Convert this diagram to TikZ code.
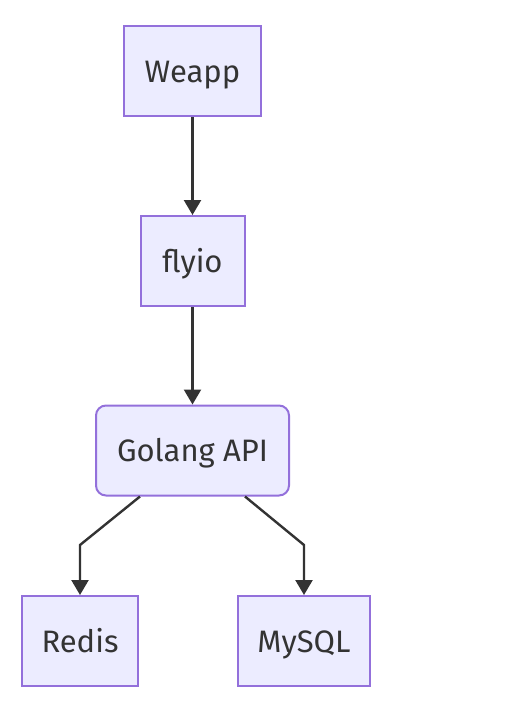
\documentclass[tikz,border=0pt]{standalone}
\usepackage{fontspec}
\setmainfont{Fira Sans}
\usetikzlibrary{arrows.meta}
\definecolor{nodefill}{HTML}{ECECFF}
\definecolor{nodeline}{HTML}{9370DB}
\definecolor{edgecol}{HTML}{333333}
\begin{document}
\begin{tikzpicture}[x=1pt,y=-1pt,
  box/.style={draw=nodeline,fill=nodefill,line width=2pt,text=edgecol,
    font=\fontsize{31}{36}\selectfont,inner sep=0pt,minimum height=90pt,
    text height=22pt,text depth=0pt},
  link/.style={draw=edgecol,line width=2.4pt,-{Triangle[width=17pt,length=15pt]}}]
\useasboundingbox (0,0) rectangle (506,726);
\node[box,minimum width=137pt] (weapp) at (192.5,71) {Weapp};
\node[box,minimum width=104pt] (flyio) at (192.5,261) {flyio};
\node[box,minimum width=193pt,rounded corners=10pt] (api) at (192.5,450.5) {Golang API};
\node[box,minimum width=116pt] (redis) at (80,641) {Redis};
\node[box,minimum width=132pt] (mysql) at (304,641) {MySQL};
\coordinate (r1) at (80,545);
\coordinate (m1) at (304,545);
\draw[link] (weapp) -- (flyio);
\draw[link] (flyio) -- (api);
\draw[link] (api.south -| 140,0) -- (r1) -- (redis.north);
\draw[link] (api.south -| 245,0) -- (m1) -- (mysql.north);
\end{tikzpicture}
\end{document}
